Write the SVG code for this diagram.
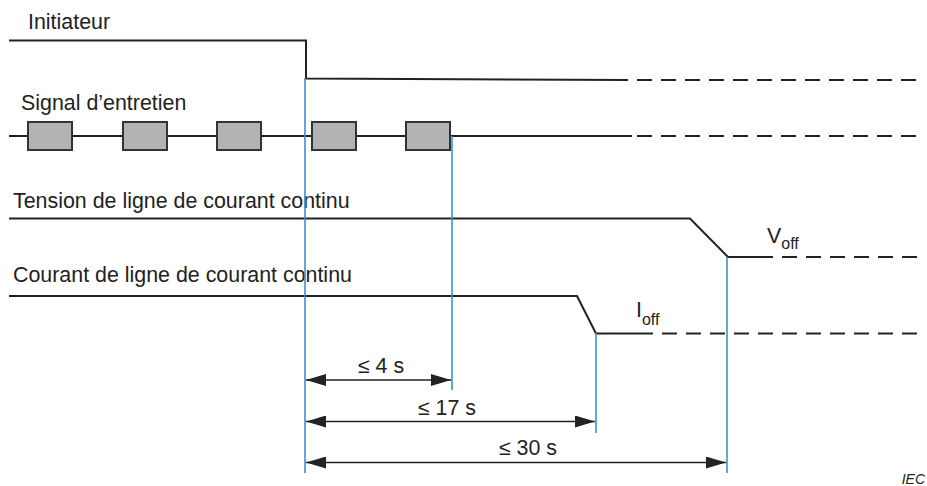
<svg xmlns="http://www.w3.org/2000/svg" width="927" height="486" viewBox="0 0 927 486">
<style>
.t{font-family:"Liberation Sans",Arial,sans-serif;font-size:21.4px;fill:#222}
.s{font-size:16px}
.w{fill:none;stroke:#222;stroke-width:2}
.d{fill:none;stroke:#222;stroke-width:2;stroke-dasharray:15 9}
.b{fill:none;stroke:#3d8fd1;stroke-width:1.6}
.box{fill:#b3b3b3;stroke:#333;stroke-width:2}
.dim{fill:none;stroke:#222;stroke-width:1.5}
</style>
<defs>
<marker id="ah" viewBox="0 0 20 12" refX="20" refY="6" markerWidth="20" markerHeight="12" markerUnits="userSpaceOnUse" orient="auto-start-reverse">
<path d="M0,0 L20,6 L0,12 Z" fill="#222"/>
</marker>
</defs>
<g id="initiateur">
<text class="t" x="28" y="29">Initiateur</text>
<path class="w" d="M9,40.5 H306 V78.5 L628,80"/>
<path class="d" d="M637,80 H918"/>
</g>
<g id="signal">
<text class="t" x="21" y="110">Signal d’entretien</text>
<path class="w" d="M9,136 H632"/>
<path class="d" d="M637,136 H918"/>
<rect class="box" x="28" y="122" width="44" height="28"/>
<rect class="box" x="123" y="122" width="44" height="28"/>
<rect class="box" x="217" y="122" width="44" height="28"/>
<rect class="box" x="312" y="122" width="44" height="28"/>
<rect class="box" x="406" y="122" width="44" height="28"/>
</g>
<g id="tension">
<text class="t" x="13" y="208">Tension de ligne de courant continu</text>
<path class="w" d="M9,218.5 H690 L728,257 H773"/>
<path class="d" d="M782,257 H918"/>
<text class="t" x="767" y="243">V<tspan class="s" dy="6">off</tspan></text>
</g>
<g id="courant">
<text class="t" x="13" y="282">Courant de ligne de courant continu</text>
<path class="w" d="M9,296 H577 L596,333.5 H653"/>
<path class="d" d="M662,333.5 H918"/>
<text class="t" x="636" y="317">I<tspan class="s" dy="8">off</tspan></text>
</g>
<g id="connectors">
<path class="b" d="M305,78 V473"/>
<path class="b" d="M452,136 V390"/>
<path class="b" d="M596,333 V433"/>
<path class="b" d="M727,257 V473"/>
<path class="dim" d="M306,380 H451" marker-start="url(#ah)" marker-end="url(#ah)"/>
<path class="dim" d="M306,421.5 H595" marker-start="url(#ah)" marker-end="url(#ah)"/>
<path class="dim" d="M306,462.5 H726" marker-start="url(#ah)" marker-end="url(#ah)"/>
</g>
<g id="labels">
<text class="t" x="381" y="373" text-anchor="middle">≤ 4 s</text>
<text class="t" x="447" y="415" text-anchor="middle">≤ 17 s</text>
<text class="t" x="528" y="455" text-anchor="middle">≤ 30 s</text>
<text x="925" y="484" text-anchor="end" style="font-family:'Liberation Sans',Arial,sans-serif;font-size:14px;font-style:italic;fill:#222">IEC</text>
</g>
</svg>
